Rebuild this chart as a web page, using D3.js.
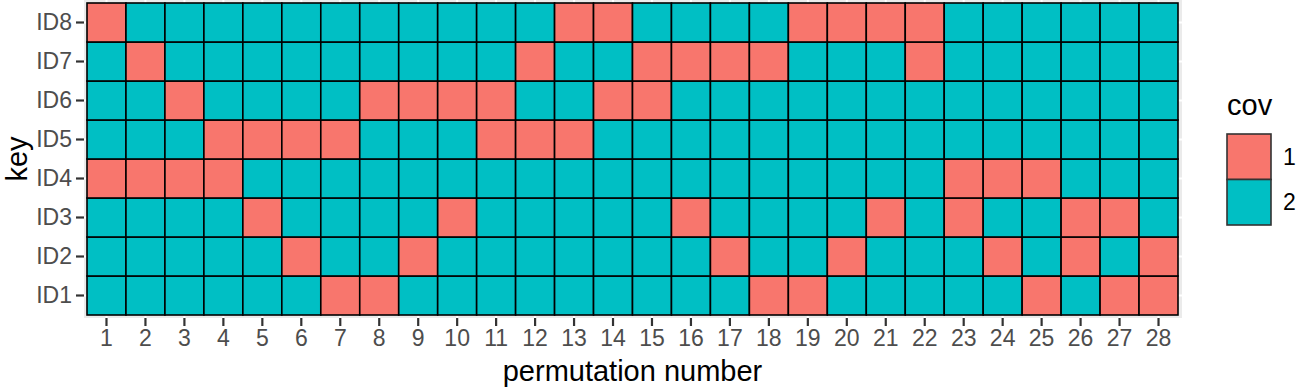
<!DOCTYPE html>
<html><head><meta charset="utf-8">
<script src="https://cdn.jsdelivr.net/npm/d3@7"></script>
<style>body{margin:0;background:#fff}svg{display:block;font-family:Arial,"Liberation Sans",sans-serif}</style>
</head><body>
<svg id="c" width="1299" height="388"></svg>
<script>
// Data: for each key, permutation numbers where cov == 1 (all others cov == 2)
const keys = ["ID1","ID2","ID3","ID4","ID5","ID6","ID7","ID8"];
const permutations = d3.range(1, 29);
const covOne_ID1 = [7, 8, 18, 19, 25, 27, 28];
const covOne_ID2 = [6, 9, 17, 20, 24, 26, 28];
const covOne_ID3 = [5, 10, 16, 21, 23, 26, 27];
const covOne_ID4 = [1, 2, 3, 4, 23, 24, 25];
const covOne_ID5 = [4, 5, 6, 7, 11, 12, 13];
const covOne_ID6 = [3, 8, 9, 10, 11, 14, 15];
const covOne_ID7 = [2, 12, 15, 16, 17, 18, 22];
const covOne_ID8 = [1, 13, 14, 19, 20, 21, 22];
const covLevels = ["1", "2"];
const covColors = ["#F8766D", "#00BFC4"];

const covOne = {ID1:covOne_ID1,ID2:covOne_ID2,ID3:covOne_ID3,ID4:covOne_ID4,
                ID5:covOne_ID5,ID6:covOne_ID6,ID7:covOne_ID7,ID8:covOne_ID8};
const cells = [];
keys.forEach(k => permutations.forEach(p => {
  cells.push({key:k, perm:p, cov: covOne[k].includes(p) ? "1" : "2"});
}));

const svg = d3.select("#c");
const panel = {x0:84, x1:1182, y0:0, y1:318};
const tiles = {x0:87, x1:1178, y0:3, y1:315};

const x = d3.scaleBand().domain(permutations).range([tiles.x0, tiles.x1]).padding(0);
const y = d3.scaleBand().domain(keys.slice().reverse()).range([tiles.y0, tiles.y1]).padding(0);
const color = d3.scaleOrdinal().domain(covLevels).range(covColors);

// panel background
svg.append("rect").attr("x",panel.x0).attr("y",panel.y0)
  .attr("width",panel.x1-panel.x0).attr("height",panel.y1-panel.y0).attr("fill","#EBEBEB");
// gridlines
svg.append("g").selectAll("line").data(permutations).join("line")
  .attr("x1",d=>x(d)+x.bandwidth()/2).attr("x2",d=>x(d)+x.bandwidth()/2)
  .attr("y1",panel.y0).attr("y2",panel.y1).attr("stroke","#fff").attr("stroke-width",2);
svg.append("g").selectAll("line").data(keys).join("line")
  .attr("y1",d=>y(d)+y.bandwidth()/2).attr("y2",d=>y(d)+y.bandwidth()/2)
  .attr("x1",panel.x0).attr("x2",panel.x1).attr("stroke","#fff").attr("stroke-width",2);

// tiles
svg.append("g").selectAll("rect").data(cells).join("rect")
  .attr("x",d=>x(d.perm)).attr("y",d=>y(d.key))
  .attr("width",x.bandwidth()).attr("height",y.bandwidth())
  .attr("fill",d=>color(d.cov)).attr("stroke","#000").attr("stroke-width",1.6);

// axes
const xAxis = d3.axisBottom(x).tickSize(8).tickPadding(4);
const gx = svg.append("g").attr("transform",`translate(0,${panel.y1})`).call(xAxis);
const yAxis = d3.axisLeft(y).tickSize(8).tickPadding(4);
const gy = svg.append("g").attr("transform",`translate(${panel.x0},0)`).call(yAxis);
[gx,gy].forEach(g=>{
  g.select(".domain").remove();
  g.selectAll(".tick line").attr("stroke","#333").attr("stroke-width",2.2);
  g.selectAll(".tick text").attr("fill","#4D4D4D").attr("font-size","23px").attr("font-family","Arial,'Liberation Sans',sans-serif");
});

// axis titles
svg.append("text").attr("x",(tiles.x0+tiles.x1)/2).attr("y",381).attr("text-anchor","middle")
  .attr("font-size","29px").attr("fill","#000").text("permutation number");
svg.append("text").attr("transform",`translate(27,${(tiles.y0+tiles.y1)/2}) rotate(-90)`)
  .attr("text-anchor","middle").attr("font-size","29px").attr("fill","#000").text("key");

// legend
const lg = svg.append("g");
lg.append("text").attr("x",1227).attr("y",115).attr("font-size","29px").attr("fill","#000").text("cov");
const keyY = d3.scaleBand().domain(covLevels).range([134,225]);
lg.selectAll("rect").data(covLevels).join("rect")
  .attr("x",1227).attr("y",d=>keyY(d)).attr("width",44).attr("height",keyY.bandwidth())
  .attr("fill",d=>color(d)).attr("stroke","#333").attr("stroke-width",1.6);
lg.selectAll("text.lab").data(covLevels).join("text").attr("class","lab")
  .attr("x",1283).attr("y",d=>keyY(d)+keyY.bandwidth()/2).attr("dy","0.35em")
  .attr("font-size","23px").attr("fill","#000").text(d=>d);
</script>
</body></html>
